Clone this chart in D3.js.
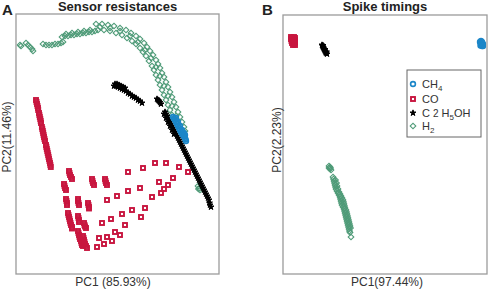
<!DOCTYPE html>
<html>
<head>
<meta charset="utf-8">
<script src="https://cdn.jsdelivr.net/npm/d3@7"></script>
<style>
  body { margin: 0; background: #fff; }
  text { font-family: Arial, "Liberation Sans", sans-serif; fill: #222; }
</style>
</head>
<body>
<div id="chart"></div>
<script>
// ---- panel A : PCA of sensor resistances (PC1, PC2 scores) ----
const aCH4 = [[5.6,2.7],[5.7,2.55],[5.8,2.4],[5.9,2.2],[6.0,2.0],[6.1,1.8],[6.2,1.6],[6.3,1.4],
  [6.4,1.2],[6.5,1.05],[6.6,0.9],[6.7,0.75],[6.8,0.6],[6.85,0.45],[6.9,0.3],
  [5.9,2.6],[6.1,2.2],[6.3,1.8],[6.5,1.4],[6.7,1.1],[6.8,0.9]]
const aCO = [
  // left column
  [-8.1,4.4],[-8.05,4.2],[-8.0,4.0],[-7.95,3.8],[-7.9,3.6],[-7.88,3.4],
  [-7.8,3.1],[-7.76,2.9],[-7.72,2.7],[-7.67,2.5],[-7.63,2.3],[-7.6,2.1],
  [-7.51,1.7],[-7.47,1.5],[-7.42,1.3],[-7.38,1.1],[-7.34,0.9],[-7.3,0.7],[-7.25,0.5],[-7.2,0.3],
  [-7.1,-0.1],[-7.06,-0.3],[-7.02,-0.5],[-6.97,-0.7],[-6.93,-0.9],[-6.88,-1.1],[-6.84,-1.3],[-6.8,-1.5],
  [-6.75,-1.7],[-6.7,-1.9],[-6.66,-2.1],[-6.62,-2.3],
  // dense blobs
  [-4.8,-2.7],[-4.75,-2.9],[-4.7,-3.1],[-4.6,-3.3],[-4.5,-3.5],
  [-5.3,-4.0],[-5.25,-4.2],[-5.2,-4.4],[-5.1,-4.6],
  [-5.1,-5.5],[-5.05,-5.7],[-5.0,-5.9],[-5.0,-6.1],
  [-4.9,-6.9],[-4.85,-7.1],[-4.8,-7.3],[-4.75,-7.5],[-4.7,-7.7],[-4.65,-7.9],[-4.6,-8.1],[-4.5,-8.3],[-4.5,-8.45],
  [-3.9,-5.5],[-3.9,-5.7],[-3.85,-5.9],[-3.8,-6.1],
  [-2.9,-5.9],[-2.85,-6.1],[-2.8,-6.3],[-2.8,-6.45],
  [-3.9,-7.2],[-3.85,-7.4],[-3.8,-7.6],[-3.8,-7.8],
  [-3.3,-7.9],[-3.25,-8.1],[-3.2,-8.25],[-3.1,-8.4],
  [-3.9,-8.7],[-3.85,-8.9],[-3.8,-9.1],[-3.75,-9.3],[-3.7,-9.5],[-3.6,-9.7],[-3.55,-9.9],[-3.5,-10.1],[-3.4,-10.2],
  [-3.4,-9.2],[-3.35,-9.4],[-3.3,-9.6],[-3.25,-9.8],[-3.2,-10.0],[-3.1,-10.2],[-3.0,-10.4],
  [-2.5,-3.5],[-2.45,-3.7],[-2.4,-3.9],[-2.3,-4.1],
  [-1.2,-3.5],[-1.15,-3.7],[-1.1,-3.9],[-1.0,-4.1],
  // single samples
  [-1.0,-5.6],[0.0,-5.2],[1.1,-4.7],[2.3,-4.4],[4.2,-3.8],[4.7,-4.5],[4.4,-4.9],[3.5,-5.3],
  [-1.5,-7.9],[-0.6,-7.5],[0.5,-7.0],[1.5,-6.6],[2.8,-6.4],[2.4,-7.3],[0.8,-8.1],
  [-0.2,-8.8],[0.3,-9.1],[-1.0,-9.3],[-1.8,-9.4],[-1.3,-10.0],[-0.5,-9.7],[-2.0,-10.3],
  [1.1,-2.8],[2.6,-2.4],[3.8,-1.9],[4.9,-1.9],[6.2,-2.3],[7.1,-2.8],[5.6,-3.4],[5.1,-4.1]
]
const aC2H5OH = [
  [-0.3,5.8],[-0.1,5.8],[0.1,5.7],[0.3,5.6],[0.5,5.5],[0.7,5.4],[0.9,5.3],[1.1,5.1],[1.3,5.0],
  [1.5,4.8],[1.7,4.7],[1.9,4.6],[2.1,4.4],[2.3,4.3],[2.5,4.1],
  [-0.2,6.0],[0.0,6.0],[0.2,5.9],[0.4,5.8],[0.6,5.7],[0.8,5.6],
  [4.0,4.5],[4.1,4.4],[4.2,4.3],[4.3,4.15],[4.4,4.0],
  [4.8,3.2],[4.9,3.0],[5.0,2.8],[5.1,2.6],[5.2,2.4],[5.3,2.2],[5.4,2.0],[5.5,1.8],[5.6,1.6],
  [5.7,1.4],[5.8,1.2],[5.9,1.0],[6.0,0.8],[6.1,0.6],[6.2,0.4],[6.3,0.2],[6.4,0.0],[6.5,-0.2],
  [6.6,-0.4],[6.7,-0.6],[6.8,-0.8],[6.9,-1.0],[7.0,-1.2],[7.1,-1.4],[7.2,-1.6],[7.3,-1.8],
  [7.4,-2.0],[7.5,-2.2],[7.6,-2.4],[7.7,-2.6],[7.8,-2.8],[7.9,-3.0],[8.0,-3.2],[8.1,-3.4],
  [8.2,-3.6],[8.3,-3.8],[8.4,-4.0],[8.5,-4.2],[8.6,-4.4],[8.7,-4.6],[8.8,-4.8],[8.9,-5.0],
  [9.0,-5.2],[9.1,-5.4],[9.2,-5.6],[9.25,-5.9],[9.3,-6.1],[9.4,-6.3],
  [4.7,3.0],[4.9,2.6],[5.1,2.2],[5.3,1.8],[5.5,1.4],[5.7,1.0]
]
const aH2 = [
  [-9.7,9.9],[-9.6,9.8],
  [-9.1,10.1],[-8.9,9.9],[-8.7,9.7],[-8.5,9.5],[-8.4,9.3],
  [-7.4,10.0],[-7.1,9.9],[-6.8,9.9],[-6.5,9.9],[-6.2,10.0],[-5.9,10.0],[-5.6,10.1],[-5.4,10.2],
  [-5.5,10.7],[-5.2,10.8],[-4.9,10.8],[-4.6,10.9],[-4.3,10.9],[-4.0,11.0],[-3.7,11.0],[-3.4,11.1],
  [-3.1,11.1],[-2.8,11.2],[-2.5,11.2],[-2.2,11.3],
  [-5.1,11.0],[-4.5,11.1],[-3.9,11.2],[-3.3,11.3],[-2.7,11.4],
  // outer track of the arc
  [-2.1,12.0],[-1.5,12.0],[-0.9,11.9],[-0.3,11.8],[0.3,11.6],[0.9,11.4],[1.4,11.1],[1.9,10.8],
  [2.3,10.5],[2.7,10.1],[3.0,9.7],[3.3,9.3],[3.6,8.9],[3.9,8.4],[4.1,8.0],[4.3,7.6],[4.5,7.1],
  [4.7,6.7],[4.9,6.2],[5.1,5.7],[5.3,5.2],[5.5,4.7],[5.7,4.2],[5.9,3.7],[6.1,3.2],[6.3,2.7],
  [6.5,2.2],[6.7,1.7],[6.8,1.3],
  // middle track
  [-1.7,11.7],[-0.7,11.6],[0.3,11.3],[1.3,10.8],[2.1,10.2],[2.8,9.4],[3.4,8.6],[3.9,7.7],
  [4.3,6.8],[4.7,5.8],[5.1,4.8],[5.5,3.8],[5.9,2.8],[6.3,1.9],
  // inner track
  [-1.9,11.4],[-1.3,11.4],[-0.7,11.3],[-0.1,11.1],[0.5,10.9],[1.0,10.6],[1.5,10.3],[1.9,10.0],
  [2.3,9.6],[2.6,9.2],[2.9,8.8],[3.2,8.3],[3.5,7.8],[3.7,7.4],[3.9,6.9],[4.1,6.4],[4.3,5.9],
  [4.5,5.4],[4.7,4.9],[4.9,4.4],[5.1,3.9],[5.3,3.4],[5.5,2.9],
  // outliers
  [8.1,-4.2],[8.2,-4.4],[8.3,-4.6],[8.15,-4.5]
]

// ---- panel B : PCA of spike timings ----
const bCH4 = [[9.5,10.2],[9.6,10.0],[9.7,9.8],[9.8,10.0],[9.7,10.2],[9.6,10.3],[9.55,9.85],[9.8,9.8]]
const bCO = [[-9.4,10.7],[-9.4,10.5],[-9.35,10.3],[-9.3,10.1],[-9.2,9.9],[-9.2,10.6],[-9.2,10.2],
  [-9.1,10.7],[-9.1,10.5],[-9.1,10.3],[-9.05,10.1],[-9.0,9.9],[-9.0,10.6],[-9.0,10.4],[-9.0,10.2]]
const bC2H5OH = [[-6.3,9.9],[-6.25,9.8],[-6.2,9.7],[-6.15,9.6],[-6.1,9.5],[-6.05,9.4],[-6.0,9.3],
  [-5.95,9.2],[-5.9,9.1],[-5.8,9.0],[-6.2,9.85],[-6.0,9.45],[-5.85,9.2]]
const bH2 = [
  [-5.6,-2.2],[-5.5,-2.3],[-5.5,-2.5],[-5.4,-2.6],[-5.6,-2.4],[-5.45,-2.4],
  [-5.2,-3.3],[-5.15,-3.5],[-5.1,-3.7],[-5.05,-3.9],[-5.0,-4.1],[-4.95,-4.3],[-4.9,-4.5],[-4.8,-4.7],
  [-4.7,-4.9],[-4.6,-5.1],[-4.5,-5.3],[-4.45,-5.5],[-4.4,-5.7],[-4.35,-5.9],[-4.3,-6.1],[-4.2,-6.3],
  [-4.1,-6.5],[-4.05,-6.7],[-4.0,-6.9],[-3.95,-7.1],[-3.9,-7.3],[-3.85,-7.5],[-3.8,-7.7],[-3.75,-7.9],
  [-3.7,-8.1],[-3.65,-8.3],[-3.6,-8.5],[-3.55,-8.7],[-3.5,-8.85],
  [-4.95,-3.6],[-4.85,-3.9],[-4.8,-4.2],[-4.7,-4.5],[-4.6,-4.8],[-4.5,-5.0],[-4.4,-5.2],[-4.3,-5.4],
  [-4.2,-5.6],[-4.15,-5.8],[-4.1,-6.0],[-4.05,-6.2],[-4.0,-6.4],[-3.9,-6.6],[-3.85,-6.8],[-3.8,-7.0],
  [-3.75,-7.2],[-3.7,-7.4],[-3.65,-7.6],[-3.6,-7.8],[-3.55,-8.0],[-3.5,-8.2],[-3.45,-8.4],
  [-3.4,-9.3]
]

const gasNames = ['CH4', 'CO', 'C2H5OH', 'H2']
const colors = {CH4: '#1b86c8', CO: '#c8163f', C2H5OH: '#000000', H2: '#4f9b78'}

const width = 490, height = 291
const svg = d3.select('#chart').append('svg')
  .attr('width', width)
  .attr('height', height)

// marker painters
function drawMarker(g, gas, x, y) {
  if(gas === 'CH4') {
    g.append('circle').attr('cx', x).attr('cy', y).attr('r', 2.4)
      .attr('fill', 'none').attr('stroke', colors.CH4).attr('stroke-width', 1.6)
  }
  else if(gas === 'CO') {
    g.append('rect').attr('x', x - 2).attr('y', y - 2).attr('width', 4).attr('height', 4)
      .attr('fill', 'none').attr('stroke', colors.CO).attr('stroke-width', 1.9)
  }
  else if(gas === 'C2H5OH') {
    g.append('path').attr('d', d3.symbol(d3.symbolStar, 11)())
      .attr('transform', `translate(${x},${y})`)
      .attr('fill', colors.C2H5OH).attr('stroke', colors.C2H5OH).attr('stroke-width', 1)
  }
  else {
    g.append('path').attr('d', d3.symbol(d3.symbolSquare, 16)())
      .attr('transform', `translate(${x},${y}) rotate(45)`)
      .attr('fill', 'none').attr('stroke', colors.H2).attr('stroke-width', 1.1)
  }
}

function drawPanel(cfg) {
  const g = svg.append('g')
  const xScale = d3.scaleLinear().domain(cfg.xDomain).range([cfg.left, cfg.left + cfg.w])
  const yScale = d3.scaleLinear().domain(cfg.yDomain).range([cfg.top + cfg.h, cfg.top])

  // series, drawn in the stacking order of the figure
  for(const [gas, data] of cfg.series) {
    const sg = g.append('g').attr('class', 'series-' + gas)
    for(const d of data) drawMarker(sg, gas, xScale(d[0]), yScale(d[1]))
  }

  g.append('rect')
    .attr('x', cfg.left).attr('y', cfg.top)
    .attr('width', cfg.w).attr('height', cfg.h)
    .attr('fill', 'none').attr('stroke', '#9b9b9b').attr('stroke-width', 1.3)

  g.append('text').text(cfg.title)
    .attr('x', cfg.left + cfg.w / 2).attr('y', 11)
    .style('text-anchor', 'middle').style('font-size', '13px').style('font-weight', 'bold')
  g.append('text').text(cfg.letter)
    .attr('x', cfg.letterX).attr('y', 15)
    .style('font-size', '15px').style('font-weight', 'bold')
  g.append('text').text(cfg.xLabel)
    .attr('x', cfg.xLabelX).attr('y', 286)
    .style('text-anchor', 'middle').style('font-size', '12px').style('fill', '#333')
  g.append('text').text(cfg.yLabel)
    .attr('transform', `translate(${cfg.yLabelX},${cfg.yLabelY}) rotate(-90)`)
    .style('text-anchor', 'middle').style('font-size', '12px').style('fill', '#333')
  return g
}

drawPanel({
  left: 16, top: 14, w: 203, h: 260,
  xDomain: [-10.1, 10.2], yDomain: [-13, 13],
  series: [['CO', aCO], ['H2', aH2], ['C2H5OH', aC2H5OH], ['CH4', aCH4]],
  title: 'Sensor resistances', letter: 'A', letterX: 2,
  xLabel: 'PC1 (85.93%)', xLabelX: 113,
  yLabel: 'PC2(11.46%)', yLabelX: 11, yLabelY: 137
})

drawPanel({
  left: 283, top: 15, w: 204, h: 259,
  xDomain: [-10.2, 10.2], yDomain: [-13, 12.9],
  series: [['CO', bCO], ['H2', bH2], ['C2H5OH', bC2H5OH], ['CH4', bCH4]],
  title: 'Spike timings', letter: 'B', letterX: 262,
  xLabel: 'PC1(97.44%)', xLabelX: 387,
  yLabel: 'PC2(2.23%)', yLabelX: 281, yLabelY: 140
})

// legend
const legend = svg.append('g').attr('transform', 'translate(407,70)')
legend.append('rect')
  .attr('width', 74).attr('height', 67)
  .attr('fill', '#fff').attr('stroke', '#666').attr('stroke-width', 1)
const labelParts = {
  CH4: [['CH', 0, 11], ['4', 3, 8]],
  CO: [['CO', 0, 11]],
  C2H5OH: [['C ', 0, 11], ['2', 0, 10], [' H', 0, 11], ['5', 3, 8], ['OH', -3, 11]],
  H2: [['H', 0, 11], ['2', 3, 8]]
}
gasNames.forEach((gas, i) => {
  const y = [14, 29, 43, 56][i]
  drawMarker(legend, gas, 6, y)
  const t = legend.append('text').attr('x', 15).attr('y', y + 4)
  for(const [s, dy, fs] of labelParts[gas]) {
    t.append('tspan').text(s).attr('dy', dy).style('font-size', fs + 'px').style('fill', '#333')
  }
})
</script>
</body>
</html>
